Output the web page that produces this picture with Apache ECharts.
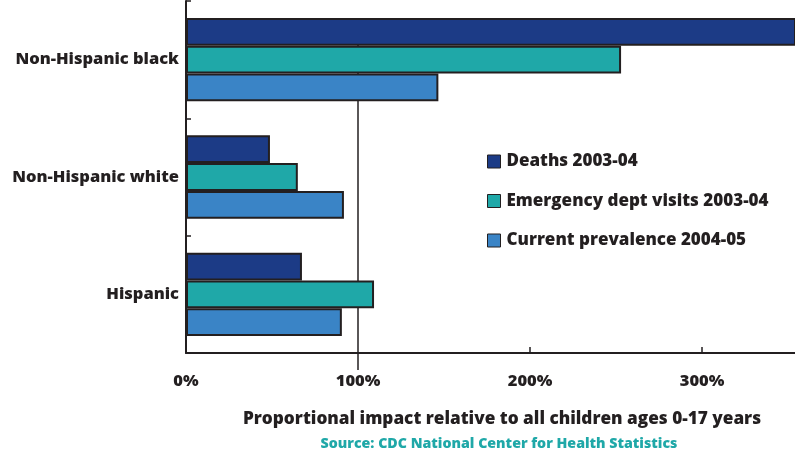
<!DOCTYPE html>
<html>
<head>
<meta charset="utf-8">
<script src="https://cdn.jsdelivr.net/npm/echarts@6/dist/echarts.min.js"></script>
<style>
html,body{margin:0;padding:0;background:#fff;}
#chart{width:795px;height:452px;}
</style>
</head>
<body>
<div id="chart"></div>
<script>
const categories = ['Non-Hispanic black', 'Non-Hispanic white', 'Hispanic'];
const deaths = [390, 48.8, 67.4];
const edVisits = [252.9, 65, 109.3];
const prevalence = [146.7, 91.8, 90.6];
const seriesNames = ['Deaths 2003-04', 'Emergency dept visits 2003-04', 'Current prevalence 2004-05'];
const xTickLabels = [0, 100, 200, 300];
const refValue = 100;

const FONT = '"Open Sans"';
const W = 800;
const DARK = '#231f20';
const colors = ['#1c3b86', '#1fa8a8', '#3a84c6'];
const gridTop = 1, gridLeft = 186, gridHeight = 352;

const chart = echarts.init(document.getElementById('chart'));
const border = { borderColor: DARK, borderWidth: 2 };

function bar(name, data, color, extra) {
  return Object.assign({
    name: name,
    type: 'bar',
    data: data,
    z: 2,
    barGap: '0%',
    barCategoryGap: '29%',
    itemStyle: Object.assign({ color: color }, border),
    emphasis: { disabled: true }
  }, extra || {});
}

chart.setOption({
  animation: false,
  textStyle: { fontFamily: FONT },
  title: [
    {
      text: 'Proportional impact relative to all children ages 0-17 years',
      left: 497, top: 406, textAlign: 'center',
      textStyle: { fontFamily: FONT, fontWeight: W, fontSize: 17.2, color: DARK }
    },
    {
      text: 'Source: CDC National Center for Health Statistics',
      left: 494, top: 432, textAlign: 'center',
      textStyle: { fontFamily: FONT, fontWeight: W, fontSize: 14.2, color: '#1fa8a8' }
    }
  ],
  legend: {
    orient: 'vertical',
    left: 487, top: 153,
    padding: 0,
    itemWidth: 13, itemHeight: 13, itemGap: 22.5,
    selectedMode: false,
    icon: 'rect',
    itemStyle: { borderColor: DARK, borderWidth: 1 },
    textStyle: { fontFamily: FONT, fontWeight: W, fontSize: 17, lineHeight: 14, color: DARK, padding: [0, 0, 0, 1] },
    data: seriesNames
  },
  grid: { left: gridLeft, right: 0, top: gridTop, height: gridHeight, containLabel: false },
  xAxis: [{
    type: 'value', min: 0, max: 354, interval: 100,
    splitLine: { show: false },
    axisLine: { show: true, lineStyle: { color: DARK, width: 2 } },
    axisTick: { show: true, inside: true, length: 6, lineStyle: { color: DARK, width: 1.5 }, customValues: [200, 300] },
    axisLabel: {
      customValues: xTickLabels,
      formatter: v => v + '%',
      margin: 20,
      fontFamily: FONT, fontWeight: W, fontSize: 16.5, color: DARK
    }
  }],
  yAxis: {
    type: 'category', inverse: true, data: categories,
    axisLine: { show: true, lineStyle: { color: DARK, width: 2 } },
    axisTick: { show: true, inside: true, length: 5, lineStyle: { color: DARK, width: 1.5 } },
    axisLabel: { margin: 7, fontFamily: FONT, fontWeight: W, fontSize: 16.5, color: DARK },
    splitLine: { show: false }
  },
  series: [
    bar(seriesNames[0], deaths, colors[0], {
      markLine: {
        z: 1,
        silent: true,
        symbol: ['none', 'none'],
        label: { show: false },
        lineStyle: { color: DARK, width: 1.5, type: 'solid' },
        emphasis: { disabled: true },
        data: [[
          { coord: [refValue, categories[0]] },
          { xAxis: refValue, y: gridTop + gridHeight + 17 }
        ]]
      }
    }),
    bar(seriesNames[1], edVisits, colors[1]),
    bar(seriesNames[2], prevalence, colors[2])
  ]
});
</script>
</body>
</html>
